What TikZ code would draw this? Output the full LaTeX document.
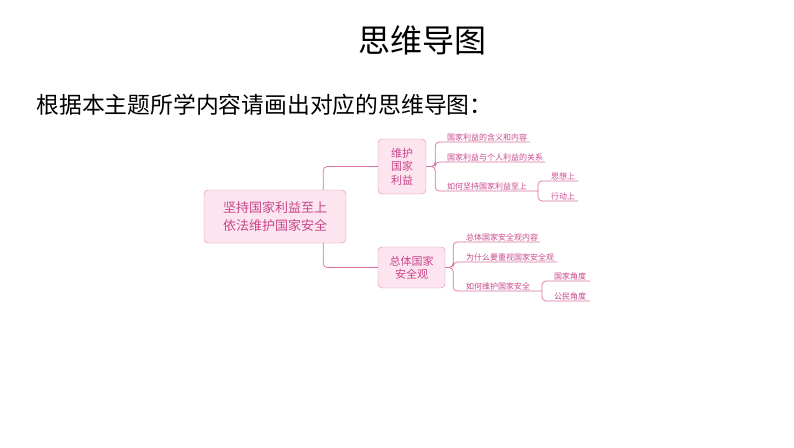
\documentclass[tikz,border=0pt]{standalone}
\usepackage{fontspec}
\setmainfont{Noto Sans CJK SC}
\definecolor{mappink}{RGB}{218,112,162}
\definecolor{mapfill}{RGB}{252,229,239}
\definecolor{maptext}{RGB}{200,70,138}

\begin{document}
\begin{tikzpicture}[x=1pt,y=-1pt]

%
% Styles
%
\tikzstyle{topic} = [rectangle,rounded corners=4pt,draw=mappink!85,fill=mapfill,text=maptext,align=center,inner sep=0pt]
\tikzstyle{leaf} = [anchor=south west,inner sep=1pt,text=maptext,font=\fontsize{8}{9}\selectfont]
\tikzstyle{link} = [draw=mappink,line width=0.7pt,rounded corners=4pt]

\useasboundingbox (0,0) rectangle (794,447);

\node (title) at (422,40) {\fontsize{32}{36}\selectfont 思维导图};
\node[anchor=west] (task) at (33,105) {\fontsize{22.8}{26}\selectfont 根据本主题所学内容请画出对应的思维导图：};

\node[topic,minimum width=142pt,minimum height=53pt,font=\fontsize{13}{18}\selectfont] (root) at (275,216.5) {坚持国家利益至上\\依法维护国家安全};
\node[topic,minimum width=48pt,minimum height=55pt,font=\fontsize{11}{13.5}\selectfont] (wh) at (402,166.5) {维护\\国家\\利益};
\node[topic,minimum width=67pt,minimum height=41pt,font=\fontsize{11}{13}\selectfont] (zt) at (411.5,267.5) {总体国家\\安全观};

\draw[link] ([xshift=-23pt]root.north east) |- (wh.west);
\draw[link] ([xshift=-23pt]root.south east) |- (zt.west);

\node[leaf] (l1) at (446,142) {国家利益的含义和内容};
\coordinate (l1e) at (530,142);
\node[leaf] (l2) at (446,162) {国家利益与个人利益的关系};
\coordinate (l2e) at (545,162);
\node[leaf] (l3) at (446,191) {如何坚持国家利益至上};
\coordinate (l3e) at (538,191);
\node[leaf] (s1) at (550,181) {思想上};
\coordinate (s1e) at (578,181);
\node[leaf] (s2) at (550,201) {行动上};
\coordinate (s2e) at (578,201);

\foreach \e in {l1e,l2e,l3e}
  \draw[link] (wh.east) -- ++(9,0) |- (\e);
\foreach \e in {s1e,s2e}
  \draw[link] (l3e) |- (\e);

\node[leaf] (m1) at (465,242) {总体国家安全观内容};
\coordinate (m1e) at (540,242);
\node[leaf] (m2) at (465,262) {为什么要重视国家安全观};
\coordinate (m2e) at (557,262);
\node[leaf] (m3) at (465,291) {如何维护国家安全};
\coordinate (m3e) at (542,291);
\node[leaf] (n1) at (553,281) {国家角度};
\coordinate (n1e) at (590,281);
\node[leaf] (n2) at (553,301) {公民角度};
\coordinate (n2e) at (590,301);

\foreach \e in {m1e,m2e,m3e}
  \draw[link] (zt.east) -- ++(8,0) |- (\e);
\foreach \e in {n1e,n2e}
  \draw[link] (m3e) |- (\e);

\end{tikzpicture}
\end{document}
